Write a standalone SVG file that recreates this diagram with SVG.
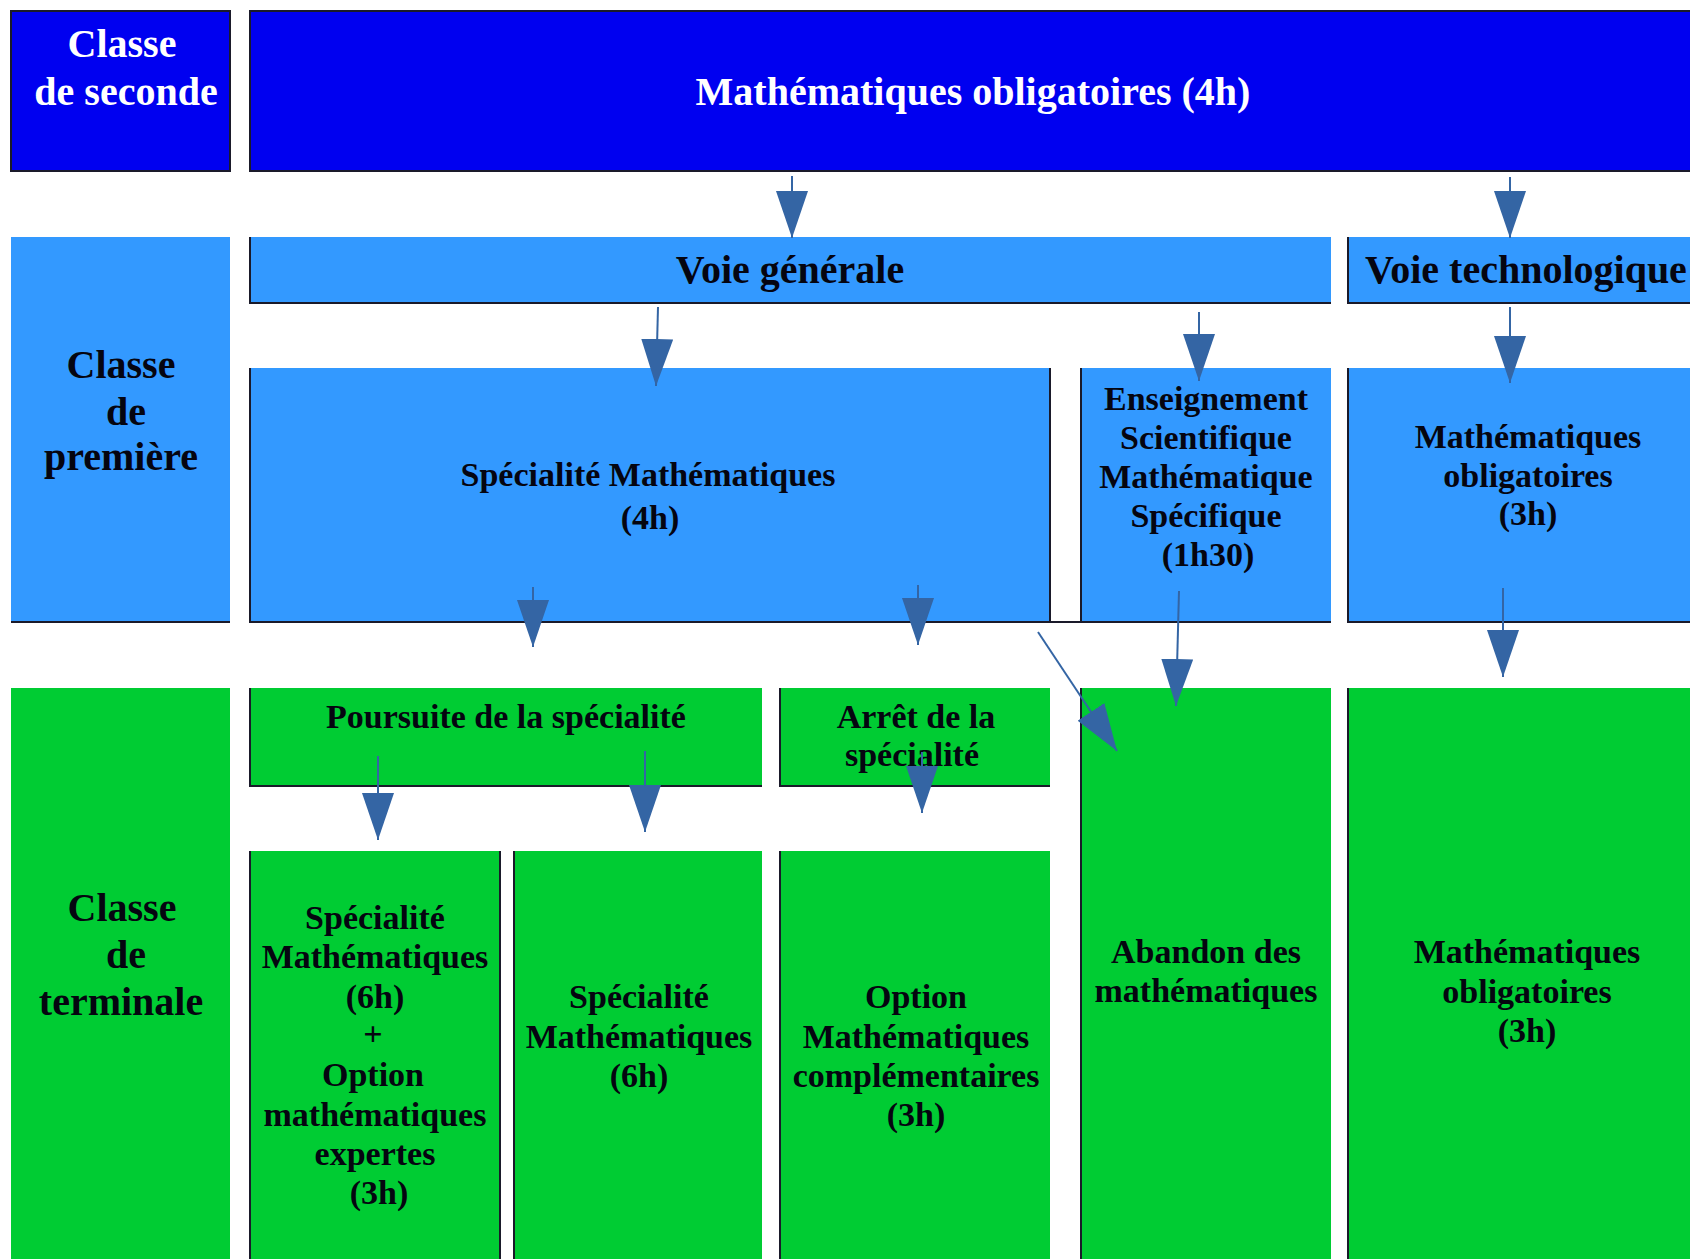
<svg xmlns="http://www.w3.org/2000/svg" width="1690" height="1259" viewBox="0 0 1690 1259">
<style>
.t{font-family:"Liberation Serif","Times New Roman",serif;font-weight:bold;text-anchor:middle}
.w{fill:#ffffff}
.k{fill:#050510}
.f40{font-size:40px}
.f34{font-size:34px}
.dark{fill:#0000f0}
.blue{fill:#3399ff}
.green{fill:#00cc33}
.edge{fill:none;stroke:#1a1a2a;stroke-width:2}
.arrow{stroke:#3465a4;stroke-width:2;fill:none;marker-end:url(#ah)}
</style>
<defs>
<marker id="ah" markerUnits="userSpaceOnUse" markerWidth="47" markerHeight="32" viewBox="0 0 47 32" refX="47" refY="16" orient="auto">
<path d="M0,0 L47,16 L0,32 z" fill="#3465a4"/>
</marker>
</defs>
<rect width="1690" height="1259" fill="#ffffff"/>

<g id="classe-seconde">
<rect class="dark" x="11" y="11" width="219" height="160"/>
<rect class="edge" x="11" y="11" width="219" height="160" stroke="#0a0a40"/>
<text class="t w f40" x="122" y="57">Classe</text>
<text class="t w f40" x="126" y="105">de seconde</text>
</g>

<g id="maths-obligatoires-4h">
<rect class="dark" x="250" y="11" width="1440" height="160"/>
<path class="edge" d="M1690,11 H250 V171 H1690"/>
<text class="t w f40" x="973" y="105">Mathématiques obligatoires (4h)</text>
</g>

<g id="classe-premiere">
<rect class="blue" x="11" y="237" width="219" height="385"/>
<path class="edge" d="M11,622 H230"/>
<text class="t k f40" x="121" y="378">Classe</text>
<text class="t k f40" x="126" y="425">de</text>
<text class="t k f40" x="121" y="470">première</text>
</g>

<g id="voie-generale">
<rect class="blue" x="250" y="237" width="1081" height="66"/>
<path class="edge" d="M250,237 V303 H1331"/>
<text class="t k f40" x="790" y="283">Voie générale</text>
</g>

<g id="voie-technologique">
<rect class="blue" x="1348" y="237" width="342" height="66"/>
<path class="edge" d="M1348,237 V303 H1690"/>
<text class="t k f40" x="1365" y="283" style="text-anchor:start">Voie technologique</text>
</g>

<g id="specialite-4h">
<rect class="blue" x="250" y="368" width="800" height="254"/>
<path class="edge" d="M250,368 V622 H1081 M1050,368 V622"/>
<text class="t k f34" x="648" y="486">Spécialité Mathématiques</text>
<text class="t k f34" x="650" y="529">(4h)</text>
</g>

<g id="enseignement-scientifique">
<rect class="blue" x="1081" y="368" width="250" height="254"/>
<path class="edge" d="M1081,368 V622 H1331"/>
<text class="t k f34" x="1206" y="410">Enseignement</text>
<text class="t k f34" x="1206" y="449">Scientifique</text>
<text class="t k f34" x="1206" y="488">Mathématique</text>
<text class="t k f34" x="1206" y="527">Spécifique</text>
<text class="t k f34" x="1208" y="566">(1h30)</text>
</g>

<g id="maths-obligatoires-premiere">
<rect class="blue" x="1348" y="368" width="342" height="254"/>
<path class="edge" d="M1348,368 V622 H1690"/>
<text class="t k f34" x="1528" y="448">Mathématiques</text>
<text class="t k f34" x="1528" y="487">obligatoires</text>
<text class="t k f34" x="1528" y="525">(3h)</text>
</g>

<g id="classe-terminale">
<rect class="green" x="11" y="688" width="219" height="571"/>
<text class="t k f40" x="122" y="921">Classe</text>
<text class="t k f40" x="126" y="968">de</text>
<text class="t k f40" x="121" y="1015">terminale</text>
</g>

<g id="poursuite">
<rect class="green" x="250" y="688" width="512" height="98"/>
<path class="edge" d="M250,688 V786 H762"/>
<text class="t k f34" x="506" y="728">Poursuite de la spécialité</text>
</g>

<g id="arret">
<rect class="green" x="780" y="688" width="270" height="98"/>
<path class="edge" d="M780,688 V786 H1050"/>
<text class="t k f34" x="916" y="728">Arrêt de la</text>
<text class="t k f34" x="912" y="766">spécialité</text>
</g>

<g id="abandon">
<rect class="green" x="1081" y="688" width="250" height="571"/>
<path class="edge" d="M1081,688 V1259"/>
<text class="t k f34" x="1206" y="963">Abandon des</text>
<text class="t k f34" x="1206" y="1002">mathématiques</text>
</g>

<g id="maths-obligatoires-terminale">
<rect class="green" x="1348" y="688" width="342" height="571"/>
<path class="edge" d="M1348,688 V1259"/>
<text class="t k f34" x="1527" y="963">Mathématiques</text>
<text class="t k f34" x="1527" y="1003">obligatoires</text>
<text class="t k f34" x="1527" y="1042">(3h)</text>
</g>

<g id="specialite-expertes">
<rect class="green" x="250" y="851" width="250" height="408"/>
<path class="edge" d="M250,851 V1259 M500,851 V1259"/>
<text class="t k f34" x="375" y="929">Spécialité</text>
<text class="t k f34" x="375" y="968">Mathématiques</text>
<text class="t k f34" x="375" y="1008">(6h)</text>
<text class="t k f34" x="373" y="1045">+</text>
<text class="t k f34" x="373" y="1086">Option</text>
<text class="t k f34" x="375" y="1126">mathématiques</text>
<text class="t k f34" x="375" y="1165">expertes</text>
<text class="t k f34" x="379" y="1204">(3h)</text>
</g>

<g id="specialite-6h">
<rect class="green" x="514" y="851" width="248" height="408"/>
<path class="edge" d="M514,851 V1259"/>
<text class="t k f34" x="639" y="1008">Spécialité</text>
<text class="t k f34" x="639" y="1048">Mathématiques</text>
<text class="t k f34" x="639" y="1087">(6h)</text>
</g>

<g id="option-complementaires">
<rect class="green" x="780" y="851" width="270" height="408"/>
<path class="edge" d="M780,851 V1259"/>
<text class="t k f34" x="916" y="1008">Option</text>
<text class="t k f34" x="916" y="1048">Mathématiques</text>
<text class="t k f34" x="916" y="1087">complémentaires</text>
<text class="t k f34" x="916" y="1126">(3h)</text>
</g>

<g id="connectors">
<line class="arrow" x1="792" y1="176" x2="792" y2="238"/>
<line class="arrow" x1="1510" y1="177" x2="1510" y2="238"/>
<line class="arrow" x1="658" y1="307" x2="656" y2="386"/>
<line class="arrow" x1="1199" y1="312" x2="1199" y2="381"/>
<line class="arrow" x1="1510" y1="307" x2="1510" y2="383"/>
<line class="arrow" x1="533" y1="587" x2="533" y2="647"/>
<line class="arrow" x1="918" y1="585" x2="918" y2="645"/>
<line class="arrow" x1="1179" y1="591" x2="1176" y2="706"/>
<line class="arrow" x1="1038" y1="632" x2="1117" y2="751"/>
<line class="arrow" x1="1503" y1="588" x2="1503" y2="677"/>
<line class="arrow" x1="378" y1="756" x2="378" y2="840"/>
<line class="arrow" x1="645" y1="751" x2="645" y2="832"/>
<line class="arrow" x1="922" y1="752" x2="922" y2="813"/>
</g>
</svg>
